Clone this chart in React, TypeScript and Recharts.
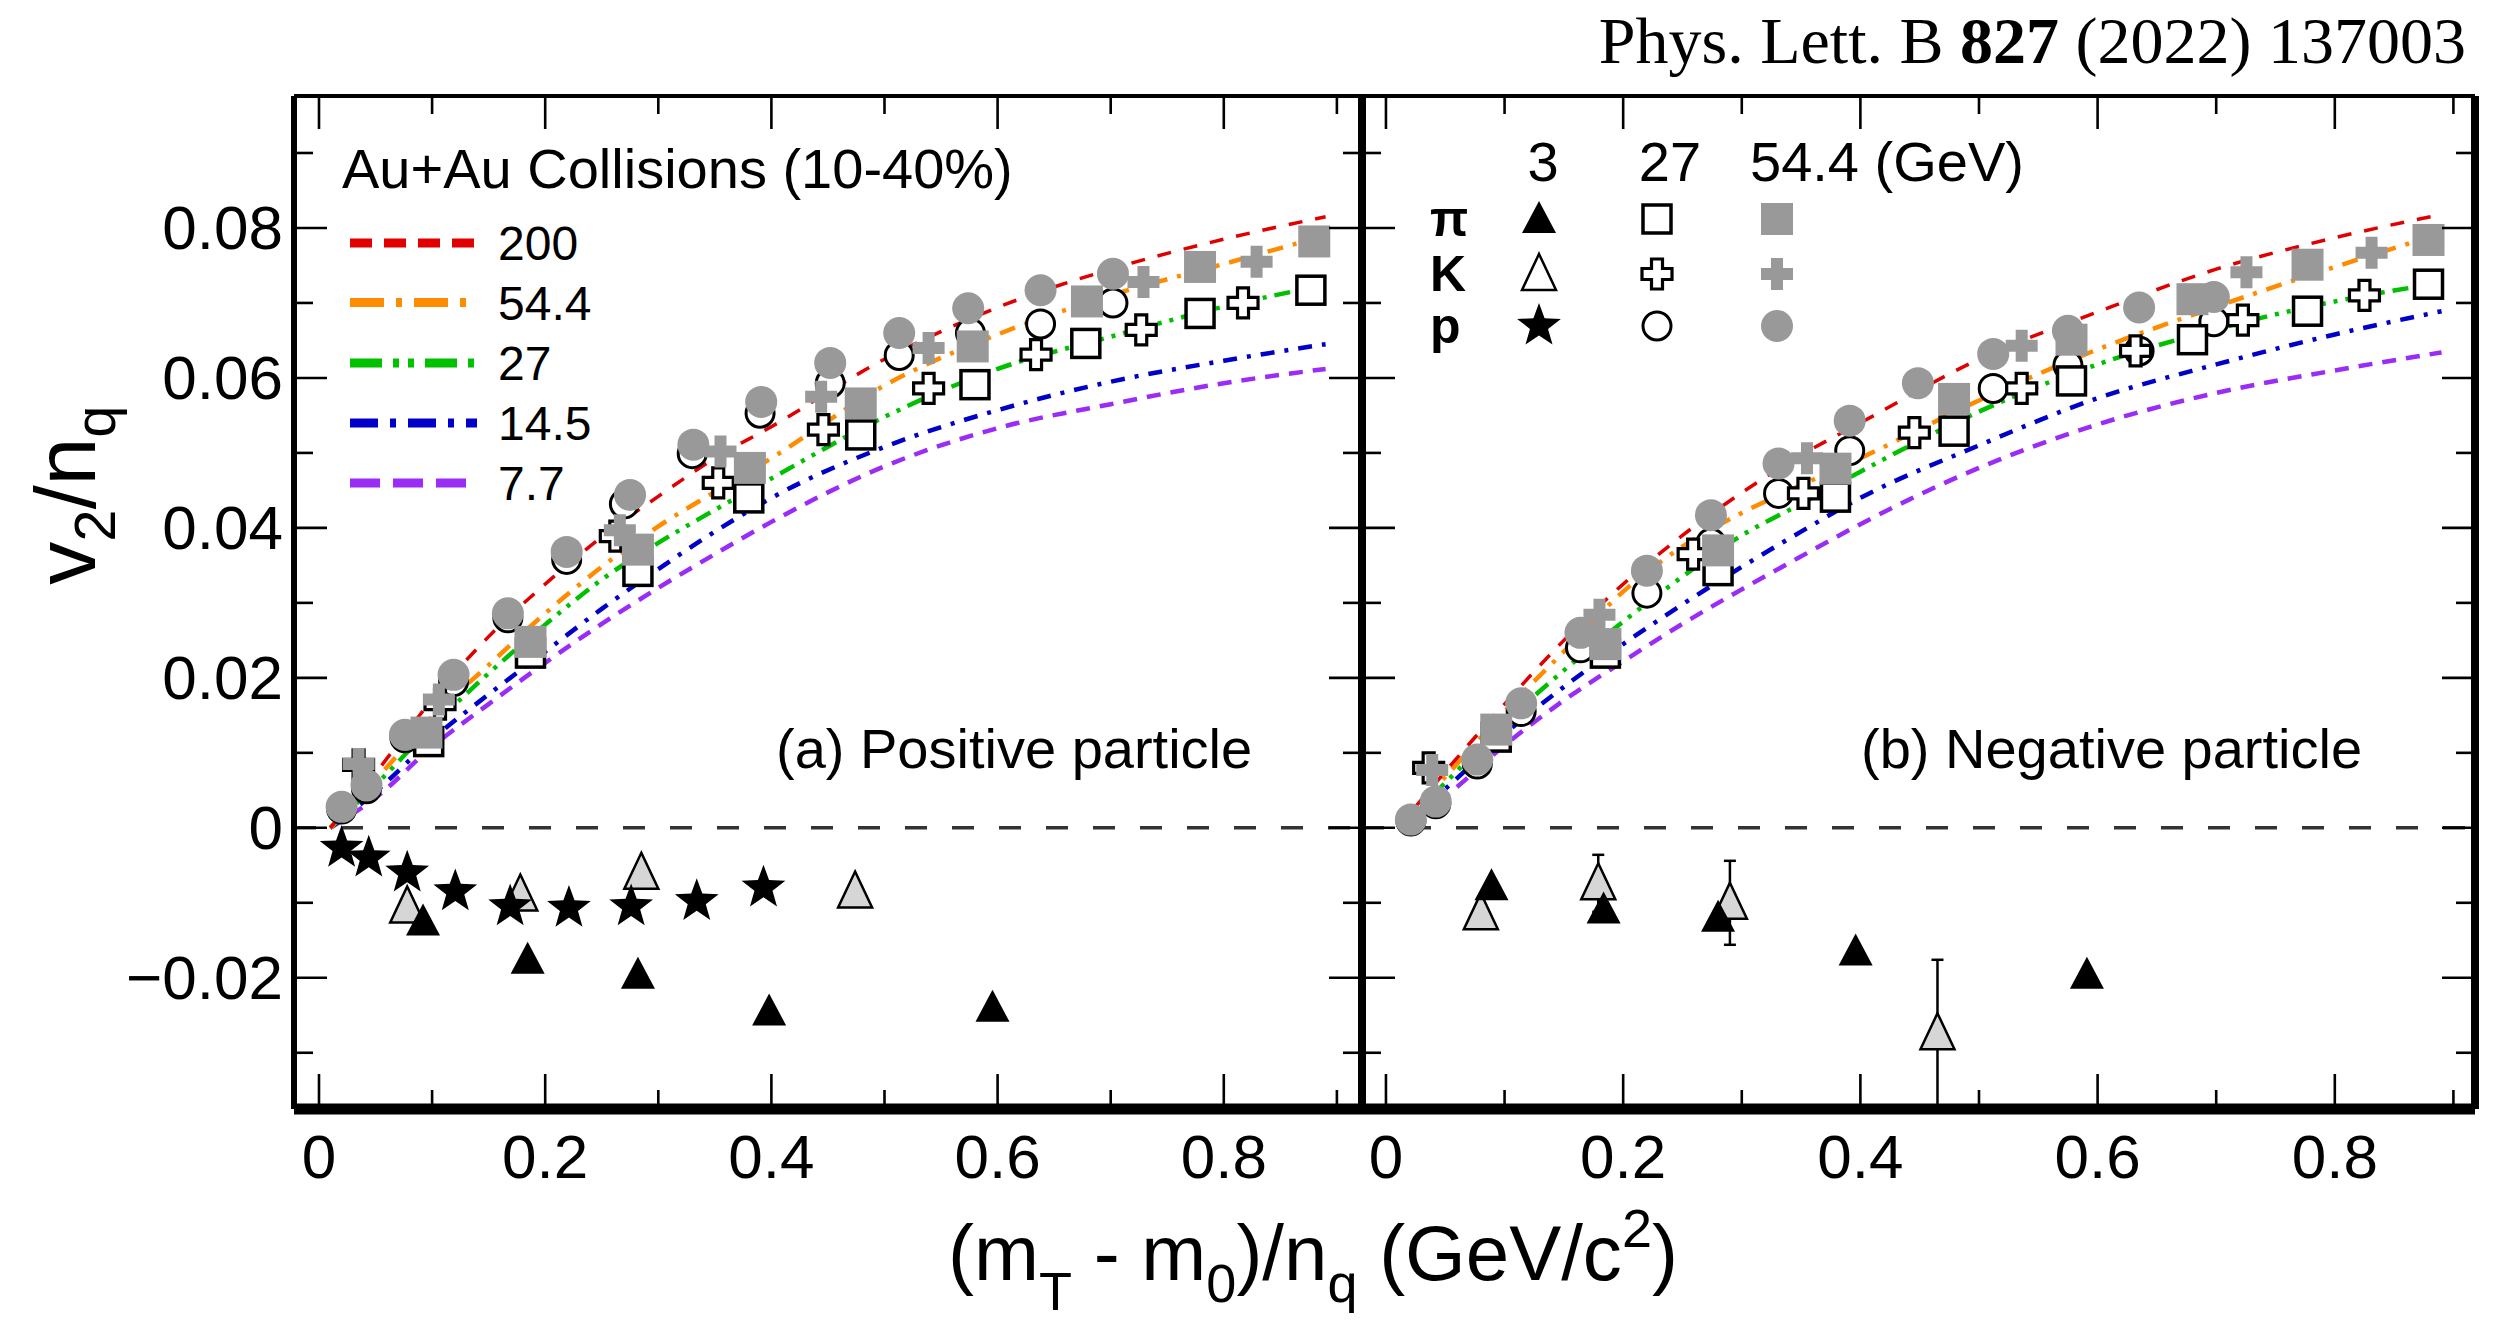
import { ComposedChart, Line, Scatter, XAxis, YAxis, ReferenceLine, ErrorBar } from 'recharts';

// shared x grid of the model curves
const curveX = [0.01, 0.05, 0.1, 0.15, 0.2, 0.25, 0.3, 0.35, 0.4, 0.5, 0.6, 0.7, 0.8, 0.89];

// (a) positive particles, curves by energy
const posCurve200 = [0, 0.0073, 0.0171, 0.0255, 0.0325, 0.0388, 0.0442, 0.0493, 0.0535, 0.0625, 0.0694, 0.0745, 0.0785, 0.0815];
const posCurve544 = [0, 0.0064, 0.0148, 0.0217, 0.0286, 0.0348, 0.0402, 0.0448, 0.0493, 0.059, 0.0658, 0.071, 0.0752, 0.079];
const posCurve27 = [0, 0.0057, 0.0135, 0.0206, 0.0271, 0.0331, 0.038, 0.0424, 0.0466, 0.0548, 0.0612, 0.0655, 0.0695, 0.0724];
const posCurve145 = [0, 0.0048, 0.0118, 0.0178, 0.0235, 0.0292, 0.0345, 0.0395, 0.044, 0.0508, 0.0557, 0.0595, 0.0623, 0.0645];
const posCurve77 = [0, 0.004, 0.0108, 0.0165, 0.022, 0.0272, 0.032, 0.0365, 0.0408, 0.0482, 0.0533, 0.0565, 0.0593, 0.0612];

// (b) negative particles, curves by energy
const negCurve200 = [0, 0.0075, 0.0165, 0.025, 0.0325, 0.039, 0.0447, 0.0497, 0.054, 0.0625, 0.0688, 0.0745, 0.0787, 0.0818];
const negCurve544 = [0, 0.0068, 0.0155, 0.0235, 0.0315, 0.0375, 0.042, 0.0457, 0.0493, 0.057, 0.0638, 0.0695, 0.0748, 0.0793];
const negCurve27 = [0, 0.006, 0.014, 0.021, 0.0275, 0.0335, 0.039, 0.0432, 0.0475, 0.0555, 0.0618, 0.0665, 0.0702, 0.0727];
const negCurve145 = [0, 0.0052, 0.0125, 0.0188, 0.0245, 0.0298, 0.0348, 0.0395, 0.044, 0.051, 0.0573, 0.0618, 0.0658, 0.0689];
const negCurve77 = [0, 0.0042, 0.011, 0.017, 0.0222, 0.0272, 0.0318, 0.0362, 0.0405, 0.048, 0.0538, 0.058, 0.061, 0.0634];

// (a) positive particle data points
const pos3PiX = [0.092, 0.1845, 0.282, 0.398, 0.5955];
const pos3PiV = [-0.0125, -0.0176, -0.0196, -0.0245, -0.024];
const pos3KX = [0.078, 0.178, 0.285, 0.474];
const pos3KV = [-0.0105, -0.0089, -0.006, -0.0085];
const pos3PX = [0.02, 0.044, 0.078, 0.1205, 0.169, 0.221, 0.276, 0.334, 0.393];
const pos3PV = [-0.0027, -0.004, -0.006, -0.0085, -0.0105, -0.0107, -0.0105, -0.0098, -0.008];
const pos27PiX = [0.097, 0.187, 0.282, 0.38, 0.479, 0.58, 0.678, 0.779, 0.877];
const pos27PiV = [0.0115, 0.0233, 0.0342, 0.044, 0.0524, 0.0591, 0.0646, 0.0686, 0.0717];
const pos27KX = [0.035, 0.107, 0.262, 0.353, 0.446, 0.539, 0.634, 0.727, 0.817];
const pos27KV = [0.0084, 0.0165, 0.0389, 0.046, 0.0531, 0.0586, 0.0631, 0.0664, 0.07];
const pos27PX = [0.02, 0.042, 0.076, 0.119, 0.167, 0.219, 0.27, 0.33, 0.39, 0.452, 0.513, 0.576, 0.638, 0.702];
const pos27PV = [0.0025, 0.0052, 0.012, 0.0195, 0.028, 0.0358, 0.0432, 0.0499, 0.0553, 0.0593, 0.063, 0.066, 0.0672, 0.07];
const pos54PiX = [0.095, 0.187, 0.282, 0.381, 0.479, 0.578, 0.679, 0.779, 0.88];
const pos54PiV = [0.0127, 0.0248, 0.0371, 0.048, 0.0566, 0.0642, 0.0702, 0.0748, 0.0782];
const pos54KX = [0.035, 0.106, 0.266, 0.355, 0.444, 0.539, 0.729, 0.829];
const pos54KV = [0.0085, 0.0171, 0.0397, 0.0502, 0.0575, 0.064, 0.0728, 0.0755];
const pos54PX = [0.02, 0.042, 0.076, 0.119, 0.167, 0.219, 0.275, 0.331, 0.391, 0.452, 0.513, 0.574, 0.638, 0.702];
const pos54PV = [0.0028, 0.0057, 0.0124, 0.0204, 0.0286, 0.0368, 0.0444, 0.0511, 0.0568, 0.062, 0.066, 0.0693, 0.0717, 0.0739];

// (b) negative particle data points
const neg3PiX = [0.089, 0.1835, 0.28, 0.396, 0.591];
const neg3PiV = [-0.0078, -0.0109, -0.012, -0.0165, -0.0196];
const neg3KX = [0.08, 0.179, 0.29, 0.465];
const neg3KV = [-0.0114, -0.0074, -0.01, -0.0274];
const neg3KErr = [0, 0.0038, 0.0056, 0.0098];
const neg27PiX = [0.093, 0.185, 0.28, 0.379, 0.479, 0.578, 0.68, 0.777, 0.879];
const neg27PiV = [0.0121, 0.0233, 0.0343, 0.0441, 0.0529, 0.0596, 0.0651, 0.0689, 0.0725];
const neg27KX = [0.036, 0.259, 0.352, 0.4455, 0.536, 0.632, 0.7225, 0.825];
const neg27KV = [0.008, 0.0365, 0.0446, 0.0527, 0.0586, 0.0636, 0.0677, 0.071];
const neg27PX = [0.021, 0.042, 0.077, 0.114, 0.164, 0.22, 0.274, 0.331, 0.391, 0.512, 0.575, 0.635, 0.698];
const neg27PV = [0.0009, 0.0032, 0.0085, 0.0155, 0.024, 0.0313, 0.038, 0.0446, 0.0503, 0.0586, 0.0617, 0.0636, 0.0675];
const neg54PiX = [0.093, 0.185, 0.28, 0.379, 0.479, 0.578, 0.68, 0.777, 0.879];
const neg54PiV = [0.0131, 0.0245, 0.037, 0.0479, 0.0572, 0.0651, 0.0705, 0.0751, 0.0784];
const neg54KX = [0.039, 0.18, 0.355, 0.536, 0.7255, 0.831];
const neg54KV = [0.0077, 0.0284, 0.0493, 0.0643, 0.0741, 0.0767];
const neg54PX = [0.021, 0.042, 0.077, 0.114, 0.164, 0.22, 0.274, 0.331, 0.391, 0.4485, 0.512, 0.575, 0.635, 0.698];
const neg54PV = [0.0011, 0.0035, 0.0091, 0.0166, 0.026, 0.0343, 0.0417, 0.0486, 0.0543, 0.0593, 0.0632, 0.0663, 0.0694, 0.0708];

const xTicks = [0, 0.1, 0.2, 0.3, 0.4, 0.5, 0.6, 0.7, 0.8, 0.9];
const yTicks = [-0.03, -0.02, -0.01, 0, 0.01, 0.02, 0.03, 0.04, 0.05, 0.06, 0.07, 0.08, 0.09];
const energies = ['200', '54.4', '27', '14.5', '7.7'];

const FONT = '"Liberation Sans", Arial, Helvetica, sans-serif';
const GRAY = '#999999';

const curveStyle: Record<string, { color: string; dash: string; legendDash: string; w: number }> = {
  '200': { color: '#e00000', dash: '14 13', legendDash: '22 12', w: 3.5 },
  '54.4': { color: '#ff8c00', dash: '16 10 4 10', legendDash: '34 12 6 12', w: 4.5 },
  '27': { color: '#00c000', dash: '16 8 4 8 4 8', legendDash: '32 11 6 9 6 11', w: 4.5 },
  '14.5': { color: '#0000c8', dash: '14 10 4 10', legendDash: '28 12 6 12', w: 4.5 },
  '7.7': { color: '#9a2cf5', dash: '14 10', legendDash: '30 13', w: 4.5 },
};

const pts = (xs: number[], vs: number[], errs?: number[]) =>
  xs.map((x, i) => (errs ? { x, v: vs[i], err: errs[i] } : { x, v: vs[i] }));

// ---- marker shapes ----
function StarMark({ cx = 0, cy = 0 }: any) {
  const p: string[] = [];
  for (let i = 0; i < 10; i++) {
    const r = i % 2 === 0 ? 23 : 9.5;
    const a = -Math.PI / 2 + (i * Math.PI) / 5;
    p.push(`${cx + r * Math.cos(a)},${cy + r * Math.sin(a)}`);
  }
  return <polygon points={p.join(' ')} fill="#000" />;
}
function TriFilled({ cx = 0, cy = 0 }: any) {
  return <polygon points={`${cx},${cy - 18} ${cx + 17},${cy + 14} ${cx - 17},${cy + 14}`} fill="#000" />;
}
function TriOpen({ cx = 0, cy = 0, fill = '#d6d6d6' }: any) {
  return (
    <polygon
      points={`${cx},${cy - 20} ${cx + 17},${cy + 16} ${cx - 17},${cy + 16}`}
      fill={fill}
      stroke="#000"
      strokeWidth={2.5}
    />
  );
}
function SquareOpen({ cx = 0, cy = 0 }: any) {
  return <rect x={cx - 14} y={cy - 14} width={28} height={28} fill="#fff" stroke="#000" strokeWidth={3.5} />;
}
function SquareGray({ cx = 0, cy = 0 }: any) {
  return <rect x={cx - 16} y={cy - 16} width={32} height={32} fill={GRAY} />;
}
const plusPath = (cx: number, cy: number, a: number, b: number) =>
  `M${cx - b},${cy - a} H${cx + b} V${cy - b} H${cx + a} V${cy + b} H${cx + b} V${cy + a} H${cx - b} V${cy + b} H${cx - a} V${cy - b} H${cx - b} Z`;
function PlusOpen({ cx = 0, cy = 0 }: any) {
  return <path d={plusPath(cx, cy, 15, 5.5)} fill="#fff" stroke="#000" strokeWidth={3.2} />;
}
function PlusGray({ cx = 0, cy = 0 }: any) {
  return <path d={plusPath(cx, cy, 16, 6)} fill={GRAY} />;
}
function CircleOpen({ cx = 0, cy = 0 }: any) {
  return <circle cx={cx} cy={cy} r={14} fill="#fff" stroke="#000" strokeWidth={3} />;
}
function CircleGray({ cx = 0, cy = 0 }: any) {
  return <circle cx={cx} cy={cy} r={16} fill={GRAY} />;
}

// ---- axis ticks (inward, ROOT style) ----
const majorX = (v: number) => Math.round(v * 10) % 2 === 0;
const majorY = (v: number) => Math.round(v * 100) % 2 === 0;
const fmtY = (v: number) => (Math.abs(v) < 1e-9 ? '0' : v < 0 ? '\u2212' + Math.abs(v).toFixed(2) : v.toFixed(2));

function BottomTick({ x, y, payload }: any) {
  const m = majorX(payload.value);
  return (
    <g>
      <line x1={x} x2={x} y1={y} y2={y - (m ? 35 : 19)} stroke="#000" strokeWidth={2.6} />
      {m && (
        <text x={x} y={y + 69} textAnchor="middle" fontSize={62} fontFamily={FONT} fill="#000">
          {payload.value === 0 ? '0' : payload.value.toFixed(1)}
        </text>
      )}
    </g>
  );
}
function TopTick({ x, y, payload }: any) {
  const m = majorX(payload.value);
  return <line x1={x} x2={x} y1={y} y2={y + (m ? 33 : 18)} stroke="#000" strokeWidth={2.6} />;
}
function LeftTick({ x, y, payload, labels }: any) {
  const m = majorY(payload.value);
  return (
    <g>
      <line x1={x} x2={x + (m ? 33 : 19)} y1={y} y2={y} stroke="#000" strokeWidth={2.6} />
      {labels && m && (
        <text x={x - 11} y={y + 21} textAnchor="end" fontSize={62} fontFamily={FONT} fill="#000">
          {fmtY(payload.value)}
        </text>
      )}
    </g>
  );
}
function RightTick({ x, y, payload }: any) {
  const m = majorY(payload.value);
  return <line x1={x} x2={x - (m ? 33 : 19)} y1={y} y2={y} stroke="#000" strokeWidth={2.6} />;
}

type PanelProps = {
  left: number;
  width: number;
  margin: { top: number; right: number; bottom: number; left: number };
  xDomain: [number, number];
  yLabels: boolean;
  leftLine: number;
  curves: Record<string, number[]>;
  pi3: any[];
  k3: any[];
  p3?: any[];
  pi27: any[];
  k27: any[];
  p27: any[];
  pi54: any[];
  k54: any[];
  p54: any[];
};

function Panel(props: PanelProps) {
  const { left, width, margin, xDomain, yLabels, leftLine, curves } = props;
  return (
    <div style={{ position: 'absolute', left, top: 0 }}>
      <ComposedChart width={width} height={1323} margin={margin}>
        <XAxis
          type="number"
          dataKey="x"
          domain={xDomain}
          allowDataOverflow
          ticks={xTicks}
          interval={0}
          height={1}
          tickSize={0}
          tickMargin={0}
          tickLine={false}
          axisLine={{ stroke: '#000', strokeWidth: 11 }}
          tick={(p: any) => <BottomTick {...p} />}
        />
        <XAxis
          xAxisId="top"
          orientation="top"
          type="number"
          dataKey="x"
          domain={xDomain}
          allowDataOverflow
          ticks={xTicks}
          interval={0}
          height={1}
          tickSize={0}
          tickMargin={0}
          tickLine={false}
          axisLine={{ stroke: '#000', strokeWidth: 4 }}
          tick={(p: any) => <TopTick {...p} />}
        />
        <YAxis
          type="number"
          dataKey="v"
          domain={[-0.0375, 0.0976]}
          allowDataOverflow
          ticks={yTicks}
          interval={0}
          width={1}
          tickSize={0}
          tickMargin={0}
          tickLine={false}
          axisLine={{ stroke: '#000', strokeWidth: leftLine }}
          tick={(p: any) => <LeftTick {...p} labels={yLabels} />}
        />
        <YAxis
          yAxisId="right"
          orientation="right"
          type="number"
          dataKey="v"
          domain={[-0.0375, 0.0976]}
          allowDataOverflow
          ticks={yTicks}
          interval={0}
          width={1}
          tickSize={0}
          tickMargin={0}
          tickLine={false}
          axisLine={{ stroke: '#000', strokeWidth: 8 }}
          tick={(p: any) => <RightTick {...p} />}
        />
        <ReferenceLine y={0} stroke="#333" strokeWidth={3.5} strokeDasharray="22 25" />

        <Scatter data={props.k3} dataKey="v" isAnimationActive={false} shape={(p: any) => <TriOpen cx={p.cx} cy={p.cy} />}>
          {props.k3.some((d) => d.err) && <ErrorBar dataKey="err" direction="y" width={6} stroke="#000" strokeWidth={2.5} />}
        </Scatter>
        <Scatter data={props.pi3} dataKey="v" isAnimationActive={false} shape={(p: any) => <TriFilled cx={p.cx} cy={p.cy} />} />
        {props.p3 && (
          <Scatter data={props.p3} dataKey="v" isAnimationActive={false} shape={(p: any) => <StarMark cx={p.cx} cy={p.cy} />} />
        )}
        <Scatter data={props.p27} dataKey="v" isAnimationActive={false} shape={(p: any) => <CircleOpen cx={p.cx} cy={p.cy} />} />
        <Scatter data={props.pi27} dataKey="v" isAnimationActive={false} shape={(p: any) => <SquareOpen cx={p.cx} cy={p.cy} />} />
        <Scatter data={props.k27} dataKey="v" isAnimationActive={false} shape={(p: any) => <PlusOpen cx={p.cx} cy={p.cy} />} />
        <Scatter data={props.p54} dataKey="v" isAnimationActive={false} shape={(p: any) => <CircleGray cx={p.cx} cy={p.cy} />} />
        <Scatter data={props.pi54} dataKey="v" isAnimationActive={false} shape={(p: any) => <SquareGray cx={p.cx} cy={p.cy} />} />
        <Scatter data={props.k54} dataKey="v" isAnimationActive={false} shape={(p: any) => <PlusGray cx={p.cx} cy={p.cy} />} />

        {energies
          .slice()
          .reverse()
          .map((e) => (
            <Line
              key={e}
              data={pts(curveX, curves[e])}
              dataKey="v"
              type="monotone"
              stroke={curveStyle[e].color}
              strokeWidth={curveStyle[e].w}
              strokeDasharray={curveStyle[e].dash}
              dot={false}
              activeDot={false}
              isAnimationActive={false}
            />
          ))}
      </ComposedChart>
    </div>
  );
}

function Overlay() {
  const rows = [243, 302.5, 363, 423, 483];
  const legendRows = [
    { label: '\u03c0', y: 219, marks: [TriFilled, SquareOpen, SquareGray] },
    { label: 'K', y: 274, marks: [TriOpen, PlusOpen, PlusGray] },
    { label: 'p', y: 326, marks: [StarMark, CircleOpen, CircleGray] },
  ];
  const colX = [1539, 1657, 1777];
  return (
    <svg width={2515} height={1323} style={{ position: 'absolute', left: 0, top: 0, pointerEvents: 'none' }}>
      <text x={2466} y={63} textAnchor="end" fontSize={66} fontFamily='"Liberation Serif", "Times New Roman", serif' fill="#000">
        Phys. Lett. B <tspan fontWeight="bold">827</tspan> (2022) 137003
      </text>

      <text transform="translate(95,495) rotate(-90)" textAnchor="middle" fontSize={86} fontFamily={FONT} fill="#000">
        v<tspan fontSize={58} dy={20}>2</tspan>
        <tspan dy={-20}>/n</tspan>
        <tspan fontSize={58} dy={20}>q</tspan>
      </text>

      <text x={1313} y={1280} textAnchor="middle" fontSize={78} fontFamily={FONT} fill="#000">
        (m<tspan fontSize={54} dy={30}>T</tspan>
        <tspan dy={-30}> - m</tspan>
        <tspan fontSize={54} dy={22}>0</tspan>
        <tspan dy={-22}>)/n</tspan>
        <tspan fontSize={54} dy={22}>q</tspan>
        <tspan dy={-22}> (GeV/c</tspan>
        <tspan fontSize={54} dy={-33}>2</tspan>
        <tspan dy={33}>)</tspan>
      </text>

      <text x={342} y={188} fontSize={56} fontFamily={FONT} fill="#000">
        Au+Au Collisions (10-40%)
      </text>
      {energies.map((e, i) => (
        <g key={e}>
          <line
            x1={350}
            x2={477}
            y1={rows[i]}
            y2={rows[i]}
            stroke={curveStyle[e].color}
            strokeWidth={9}
            strokeDasharray={curveStyle[e].legendDash}
          />
          <text x={498} y={rows[i] + 17} fontSize={48} fontFamily={FONT} fill="#000">
            {e}
          </text>
        </g>
      ))}

      <text x={1543} y={181} textAnchor="middle" fontSize={56} fontFamily={FONT} fill="#000">3</text>
      <text x={1670} y={181} textAnchor="middle" fontSize={56} fontFamily={FONT} fill="#000">27</text>
      <text x={1750} y={181} fontSize={56} fontFamily={FONT} fill="#000">54.4 (GeV)</text>
      {legendRows.map((r) => (
        <g key={r.label}>
          <text x={1430} y={r.y + 17} fontSize={50} fontWeight="bold" fontFamily={FONT} fill="#000">
            {r.label}
          </text>
          {r.marks.map((M, j) => (
            <M key={j} cx={colX[j]} cy={r.y} fill="#fff" />
          ))}
        </g>
      ))}

      <text x={776} y={768} fontSize={56} fontFamily={FONT} fill="#000">
        (a) Positive particle
      </text>
      <text x={1861} y={768} fontSize={56} fontFamily={FONT} fill="#000">
        (b) Negative particle
      </text>
    </svg>
  );
}

export default function App() {
  return (
    <div style={{ position: 'absolute', left: 0, top: 0, width: 2515, height: 1323, background: '#fff' }}>
      <Panel
        left={0}
        width={1400}
        margin={{ top: 95, right: 37, bottom: 213, left: 293 }}
        xDomain={[-0.0221, 0.9222]}
        yLabels
        leftLine={6}
        curves={{ '200': posCurve200, '54.4': posCurve544, '27': posCurve27, '14.5': posCurve145, '7.7': posCurve77 }}
        pi3={pts(pos3PiX, pos3PiV)}
        k3={pts(pos3KX, pos3KV)}
        p3={pts(pos3PX, pos3PV)}
        pi27={pts(pos27PiX, pos27PiV)}
        k27={pts(pos27KX, pos27KV)}
        p27={pts(pos27PX, pos27PV)}
        pi54={pts(pos54PiX, pos54PiV)}
        k54={pts(pos54KX, pos54KV)}
        p54={pts(pos54PX, pos54PV)}
      />
      <Panel
        left={1300}
        width={1215}
        margin={{ top: 95, right: 39, bottom: 213, left: 61 }}
        xDomain={[-0.0202, 0.9182]}
        yLabels={false}
        leftLine={8}
        curves={{ '200': negCurve200, '54.4': negCurve544, '27': negCurve27, '14.5': negCurve145, '7.7': negCurve77 }}
        pi3={pts(neg3PiX, neg3PiV)}
        k3={pts(neg3KX, neg3KV, neg3KErr)}
        pi27={pts(neg27PiX, neg27PiV)}
        k27={pts(neg27KX, neg27KV)}
        p27={pts(neg27PX, neg27PV)}
        pi54={pts(neg54PiX, neg54PiV)}
        k54={pts(neg54KX, neg54KV)}
        p54={pts(neg54PX, neg54PV)}
      />
      <Overlay />
    </div>
  );
}
